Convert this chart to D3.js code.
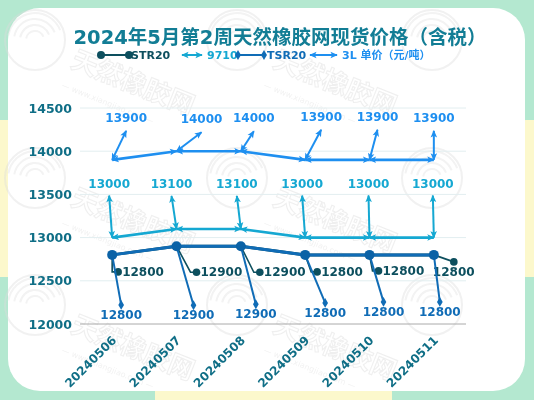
<!DOCTYPE html>
<html><head><meta charset="utf-8">
<script src="https://cdn.jsdelivr.net/npm/d3@7"></script>
<style>body{margin:0;background:#fff}svg{display:block}</style>
</head><body>
<svg id="c" width="534" height="400"></svg>
<script>
// ---------- data ----------
const dates = ["20240506","20240507","20240508","20240509","20240510","20240511"];
const yTicks = [12000,12500,13000,13500,14000,14500];
const str20 = [12800,12900,12900,12800,12800,12800];
const s9710 = [13000,13100,13100,13000,13000,13000];
const tsr20 = [12800,12900,12900,12800,12800,12800];
const l3 = [13900,14000,14000,13900,13900,13900];
const seriesNames = ["STR20","9710","TSR20","3L 单价（元/吨）"];
const titleText = "2024年5月第2周天然橡胶网现货价格（含税）";
const watermarkText = "天然橡胶网";

// ---------- label layout (pixel offsets of label anchors from each point) ----------
const l3Off   = [[14,-29],[25,-19],[13,-20],[16,-30],[8,-30],[0,-29]];
const s9710Off= [[-3,-42],[-5,-33],[-4,-33],[-3,-42],[-1,-42],[-1,-42]];
const strOff  = [[6,17],[20,26],[19,26],[12,17],[9,16],[20,7]];
const strTxt  = [[4,0],[4,0],[4,0],[4,0],[4,0],[-21,10]];
const tsrOff  = [[9,50],[17,59],[15,58],[20,48],[14,47],[6,47]];

const C = {
  mint:"#b4e8d0", yellow:"#fcf8cc", title:"#127d95", axis:"#0f6e86",
  str:"#0d4f5e", c9710:"#15a8d2", tsr:"#106cb6", l3:"#1e8ff0", grid:"#e2eef0"
};
const FONT = "'DejaVu Sans','Noto Sans CJK SC',sans-serif";

const svg = d3.select("#c");
// ---------- background ----------
svg.append("rect").attr("width",534).attr("height",400).attr("fill",C.mint);
svg.append("rect").attr("x",-20).attr("y",120).attr("width",40).attr("height",157).attr("rx",12).attr("fill",C.yellow);
svg.append("rect").attr("x",514).attr("y",120).attr("width",40).attr("height",157).attr("rx",12).attr("fill",C.yellow);
svg.append("rect").attr("x",155).attr("y",380).attr("width",237).attr("height",40).attr("rx",12).attr("fill",C.yellow);
svg.append("rect").attr("x",8).attr("y",8).attr("width",517).attr("height",383).attr("rx",32).attr("fill","#fff");

// ---------- watermark ----------
const wm = svg.append("g").attr("opacity",0.4);
[[35,40,1],[237,40,1],[432,40,0],[35,178,1],[237,178,1],[432,178,0],[35,305,1],[237,305,1],[432,305,0]].forEach(([wx,wy,t])=>{
  const g = wm.append("g").attr("transform",`translate(${wx},${wy})`);
  g.append("circle").attr("r",30).attr("fill","none").attr("stroke","#dcdcdc").attr("stroke-width",2);
  [8,14,20,26].forEach(r=>g.append("path").attr("d",d3.arc()({innerRadius:r,outerRadius:r+2,startAngle:-1.4,endAngle:1.2})).attr("fill","#e0e0e0"));
  if(t){
    g.append("text").attr("x",42).attr("y",12).attr("transform","rotate(22)").attr("font-size",26).attr("font-weight","bold")
      .attr("fill","none").attr("stroke","#d8d8d8").attr("stroke-width",1.1).attr("font-family",FONT).text(watermarkText);
    g.append("text").attr("x",42).attr("y",34).attr("transform","rotate(22)").attr("font-size",8)
      .attr("fill","#dedede").attr("font-family",FONT).text("— www.xiangjiao.com —");
  }
});

// ---------- scales ----------
const x = d3.scaleBand().domain(dates).range([80,466]);
const cx = d => x(d) + x.bandwidth()/2;
const y = d3.scaleLinear().domain([12000,14500]).range([324,108]);

// ---------- markers ----------
const defs = svg.append("defs");
function arrow(id,color){
  defs.append("marker").attr("id",id).attr("viewBox","-1 -5 11 10").attr("refX",8).attr("refY",0)
    .attr("markerWidth",9).attr("markerHeight",9).attr("markerUnits","userSpaceOnUse").attr("orient","auto-start-reverse")
    .append("path").attr("d","M0,-4L9,0L0,4L2,0Z").attr("fill",color);
}
arrow("a3l",C.l3); arrow("a97",C.c9710);

// ---------- grid & axes ----------
const grid = svg.append("g");
yTicks.forEach(t=>{
  grid.append("line").attr("x1",80).attr("x2",466).attr("y1",y(t)).attr("y2",y(t))
    .attr("stroke", t===12000 ? "#aaaaaa" : C.grid).attr("stroke-width",1);
});
const yAxis = svg.append("g").attr("transform","translate(72,0)")
  .call(d3.axisLeft(y).tickValues(yTicks).tickSize(0).tickPadding(0).tickFormat(d3.format("d")));
yAxis.select(".domain").remove();
yAxis.selectAll("text").attr("font-family",FONT).attr("font-size",12.5).attr("font-weight","bold").attr("fill",C.axis);

const xAxis = svg.append("g").attr("transform","translate(0,324)")
  .call(d3.axisBottom(x).tickSize(0).tickPadding(0));
xAxis.select(".domain").remove();
xAxis.selectAll("text").attr("font-family",FONT).attr("font-size",12).attr("font-weight","bold").attr("fill",C.axis)
  .attr("text-anchor","end").attr("dy",0)
  .attr("transform","translate(5,17) rotate(-45)");

// ---------- helpers ----------
const pts = vals => dates.map((d,i)=>({x:cx(d), y:y(vals[i]), v:vals[i]}));
const line = d3.line().x(d=>d[0]).y(d=>d[1]);

// ---------- arrow series (3L, 9710) ----------
function arrowSeries(vals, off, color, mk, textDy){
  const p = pts(vals);
  const g = svg.append("g");
  for(let i=0;i<p.length-1;i++){
    g.append("path").attr("d",line([[p[i].x,p[i].y],[p[i+1].x,p[i+1].y]])).attr("stroke",color).attr("stroke-width",2.6)
      .attr("fill","none").attr("marker-start",`url(#${mk})`).attr("marker-end",`url(#${mk})`);
  }
  p.forEach((q,i)=>{
    const ex=q.x+off[i][0], ey=q.y+off[i][1];
    g.append("path").attr("d",line([[q.x,q.y],[ex,ey]])).attr("stroke",color).attr("stroke-width",2)
      .attr("fill","none").attr("marker-start",`url(#${mk})`).attr("marker-end",`url(#${mk})`);
    g.append("text").attr("x",ex).attr("y",ey+textDy).attr("text-anchor","middle").attr("dominant-baseline","central")
      .attr("font-family",FONT).attr("font-size",12).attr("font-weight","bold").attr("fill",color).text(q.v);
  });
}
arrowSeries(l3, l3Off, C.l3, "a3l", -13);
arrowSeries(s9710, s9710Off, C.c9710, "a97", -12);

// ---------- STR20 ----------
const pS = pts(str20);
const gS = svg.append("g");
gS.append("path").attr("d",line(pS.map(q=>[q.x,q.y]))).attr("stroke",C.str).attr("stroke-width",3).attr("fill","none");
pS.forEach((q,i)=>{
  const dx=q.x+strOff[i][0], dy=q.y+strOff[i][1];
  const elbow = i===5 ? [[q.x,q.y],[dx,dy]] : [[q.x,q.y],[Math.max(q.x,dx-6),dy],[dx,dy]];
  gS.append("path").attr("d",line(elbow)).attr("stroke",C.str).attr("stroke-width",1.6).attr("fill","none");
  gS.append("circle").attr("cx",dx).attr("cy",dy).attr("r",3.8).attr("fill",C.str);
  gS.append("text").attr("x",dx+strTxt[i][0]).attr("y",dy+strTxt[i][1]).attr("dominant-baseline","central")
    .attr("font-family",FONT).attr("font-size",12).attr("font-weight","bold").attr("fill",C.str).text(q.v);
});

// ---------- TSR20 ----------
const pT = pts(tsr20);
const gT = svg.append("g");
gT.append("path").attr("d",line(pT.map(q=>[q.x,q.y]))).attr("stroke",C.tsr).attr("stroke-width",3).attr("fill","none");
pT.forEach((q,i)=>{
  const ex=q.x+tsrOff[i][0], ey=q.y+tsrOff[i][1];
  gT.append("path").attr("d",line([[q.x,q.y],[ex,ey]])).attr("stroke",C.tsr).attr("stroke-width",2).attr("fill","none");
  gT.append("path").attr("d",d3.symbol(d3.symbolDiamond,28)()).attr("transform",`translate(${ex},${ey})`).attr("fill",C.tsr);
  gT.append("text").attr("x",ex).attr("y",ey+10).attr("text-anchor","middle").attr("dominant-baseline","central")
    .attr("font-family",FONT).attr("font-size",12).attr("font-weight","bold").attr("fill",C.tsr).text(q.v);
});
pT.forEach(q=>gT.append("circle").attr("cx",q.x).attr("cy",q.y).attr("r",5).attr("fill","#0b62a6"));

// ---------- title ----------
svg.append("text").attr("x",280).attr("y",37).attr("text-anchor","middle").attr("dominant-baseline","central")
  .attr("font-family",FONT).attr("font-size",19.5).attr("font-weight","bold").attr("fill",C.title).text(titleText);

// ---------- legend ----------
const lg = svg.append("g").attr("font-family",FONT).attr("font-size",11).attr("font-weight","bold");
const LY = 55;
lg.append("line").attr("x1",101).attr("x2",129).attr("y1",LY).attr("y2",LY).attr("stroke",C.str).attr("stroke-width",2);
[101,129].forEach(px=>lg.append("circle").attr("cx",px).attr("cy",LY).attr("r",4).attr("fill",C.str));
lg.append("text").attr("x",131).attr("y",LY).attr("dominant-baseline","central").attr("fill",C.str).text(seriesNames[0]);
lg.append("path").attr("d",line([[182,LY],[202,LY]])).attr("stroke",C.c9710).attr("stroke-width",2)
  .attr("marker-start","url(#a97)").attr("marker-end","url(#a97)");
lg.append("text").attr("x",207).attr("y",LY).attr("dominant-baseline","central").attr("fill",C.c9710).text(seriesNames[1]);
lg.append("line").attr("x1",238).attr("x2",264).attr("y1",LY).attr("y2",LY).attr("stroke",C.tsr).attr("stroke-width",2);
[238,264].forEach(px=>lg.append("path").attr("d",d3.symbol(d3.symbolDiamond,30)()).attr("transform",`translate(${px},${LY})`).attr("fill",C.tsr));
lg.append("text").attr("x",267).attr("y",LY).attr("dominant-baseline","central").attr("fill",C.tsr).text(seriesNames[2]);
lg.append("path").attr("d",line([[310,LY],[337,LY]])).attr("stroke",C.l3).attr("stroke-width",2)
  .attr("marker-start","url(#a3l)").attr("marker-end","url(#a3l)");
lg.append("text").attr("x",342).attr("y",LY).attr("dominant-baseline","central").attr("fill",C.l3).text(seriesNames[3]);
</script>
</body></html>
